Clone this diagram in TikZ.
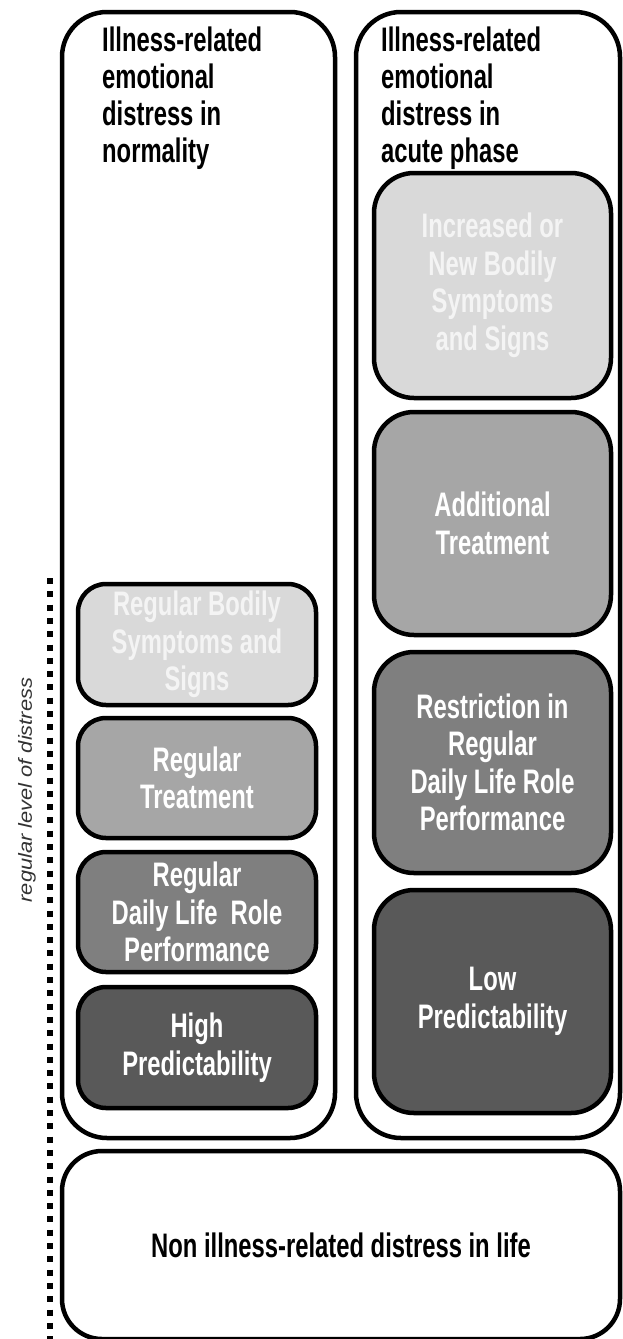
\documentclass[tikz,border=0pt]{standalone}
\usepackage{fontspec}
\setmainfont{Liberation Sans}
\newfontfamily\titlefont[FakeStretch=0.70]{Liberation Sans Bold}
\newfontfamily\labelfont[FakeStretch=0.70]{Liberation Sans Bold}
\newfontfamily\sidefont[FakeStretch=1.15]{Liberation Sans Italic}
\definecolor{toneA}{HTML}{D9D9D9}
\definecolor{toneB}{HTML}{A6A6A6}
\definecolor{toneC}{HTML}{7F7F7F}
\definecolor{toneD}{HTML}{595959}
\definecolor{faintwhite}{HTML}{F4F4F4}
\definecolor{sidegray}{HTML}{333333}
\begin{document}
\begin{tikzpicture}[x=1pt,y=-1pt,
  frame/.style={draw=black, line width=4.5pt, rounded corners=45pt, inner sep=0pt},
  level/.style={draw=black, line width=4.5pt, inner sep=0pt, align=center,
    text=white, font=\labelfont\fontsize{34}{37.5}\selectfont},
  lvlleft/.style={level, rounded corners=28pt, minimum width=238pt},
  lvlright/.style={level, rounded corners=40pt, minimum width=237pt},
  heading/.style={inner sep=0pt, align=left, anchor=north west,
    font=\titlefont\fontsize{34}{37}\selectfont}]
\useasboundingbox (0,0) rectangle (622,1339);

% outer frames
\node[frame, minimum width=273pt, minimum height=1126pt] (normal) at (198.5,575) {};
\node[frame, minimum width=264pt, minimum height=1126pt] (acute) at (488,575) {};
\node[frame, rounded corners=40pt, minimum width=558pt, minimum height=188pt,
      font=\titlefont\fontsize{34}{37}\selectfont] (life) at (341,1245)
      {Non illness-related distress in life};

% headings
\node[heading] (normaltitle) at (102,27) {Illness-related\\emotional\\distress in\\normality};
\node[heading] (acutetitle) at (381,27) {Illness-related\\emotional\\distress in\\acute phase};

% levels in normality
\node[lvlleft, fill=toneA, text=faintwhite, minimum height=121pt] (nbody) at (197,644.5)
  {Regular Bodily\\Symptoms and\\Signs};
\node[lvlleft, fill=toneB, minimum height=120pt] (ntreat) at (197,778)
  {Regular\\Treatment};
\node[lvlleft, fill=toneC, minimum height=120pt] (nrole) at (197,912)
  {Regular\\Daily Life~ Role\\Performance};
\node[lvlleft, fill=toneD, minimum height=121pt] (npred) at (197,1047.5)
  {High\\Predictability};

% levels in acute phase
\node[lvlright, fill=toneA, text=faintwhite, minimum height=225pt] (abody) at (492.5,285.5)
  {Increased or\\New Bodily\\Symptoms\\and Signs};
\node[lvlright, fill=toneB, minimum height=223pt] (atreat) at (492.5,523.5)
  {Additional\\Treatment};
\node[lvlright, fill=toneC, minimum height=221pt] (arole) at (492.5,762.5)
  {Restriction in\\Regular\\Daily Life Role\\Performance};
\node[lvlright, fill=toneD, minimum height=223pt] (apred) at (492.5,1001.5)
  {Low\\Predictability};

% regular level marker
\coordinate (dtop) at (50,578);
\coordinate (dbot) at (50,1339);
\draw[line width=6pt, dash pattern=on 6pt off 7.3pt] (dtop) -- (dbot);
\node[rotate=90, inner sep=0pt, text=sidegray, font=\sidefont\fontsize{19}{21}\selectfont]
  (regular) at (27,790) {regular level of distress};
\end{tikzpicture}
\end{document}
